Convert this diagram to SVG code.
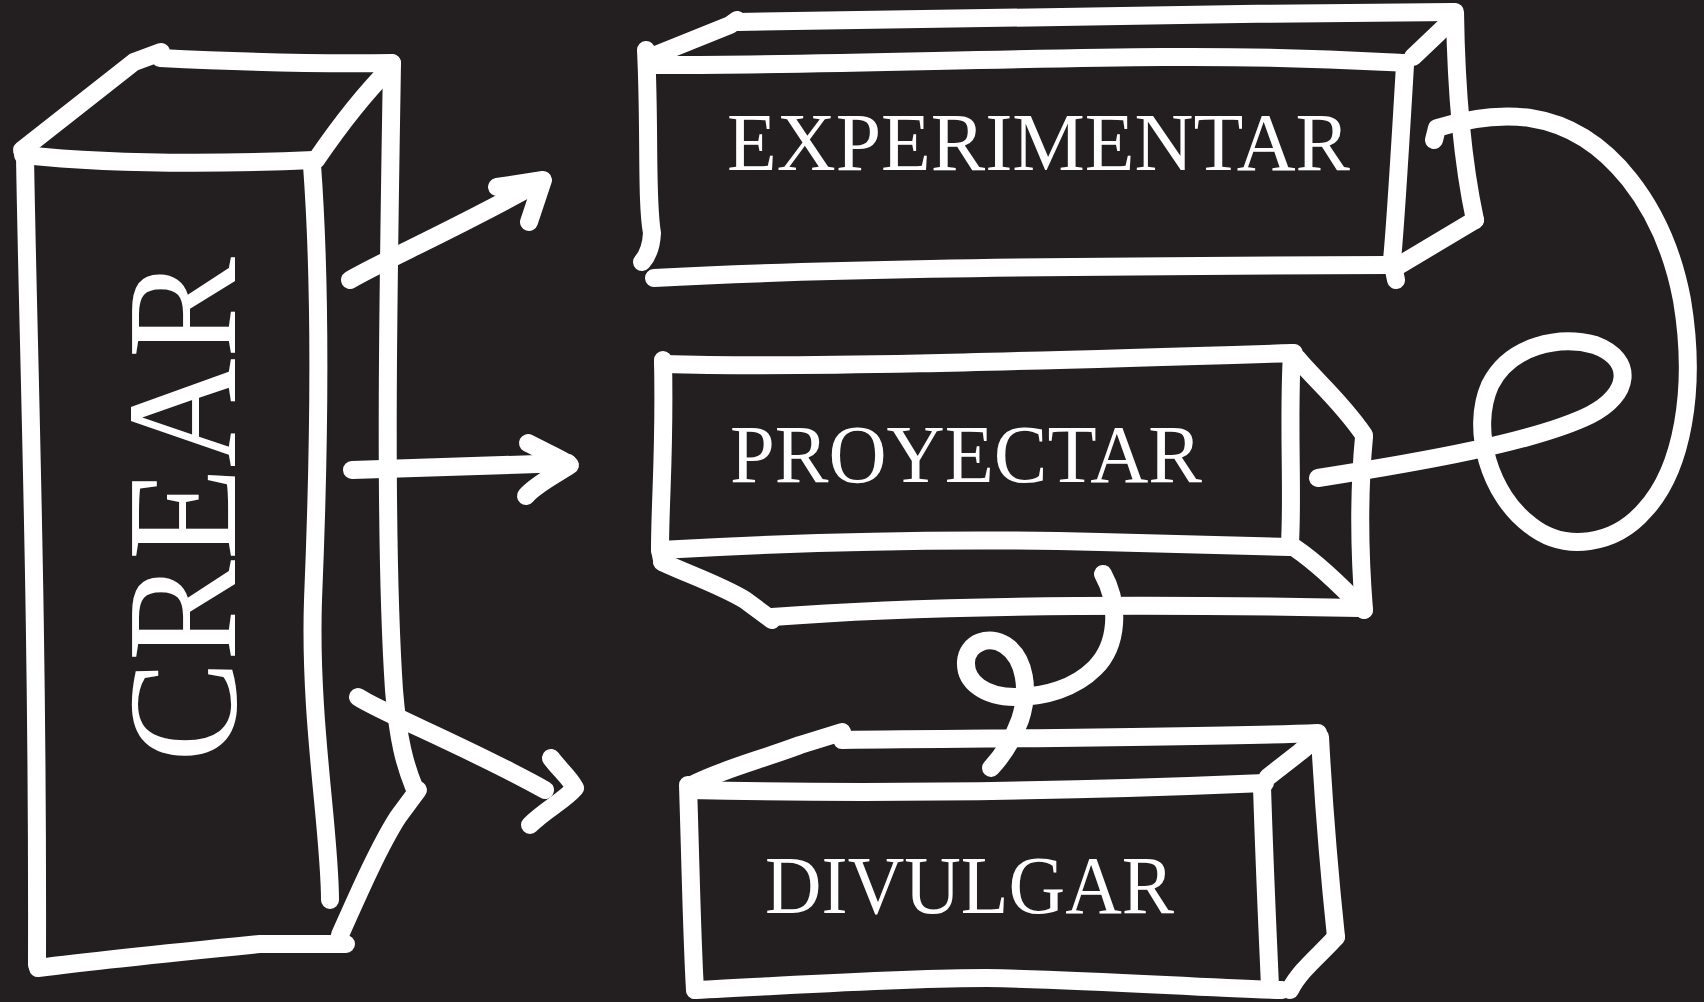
<svg xmlns="http://www.w3.org/2000/svg" width="1704" height="1002" viewBox="0 0 1704 1002">
<style>
.s{fill:none;stroke:#ffffff;stroke-width:18;stroke-linecap:round;stroke-linejoin:round}
.t{fill:#ffffff;font-family:"Liberation Serif","DejaVu Serif",serif;font-size:83px}
</style>
<rect width="1704" height="1002" fill="#231f20"/>
<g id="crear">
<path class="s" d="M25,155 C28,350 38,600 37,965"/>
<path class="s" d="M22,150 L134,62 L161,52"/>
<path class="s" d="M160,58 C240,62 320,64 392,63"/>
<path class="s" d="M390,68 C366,92 342,122 316,160"/>
<path class="s" d="M23,155 C100,163 200,165 314,160"/>
<path class="s" d="M312,165 C322,300 318,480 313,600 C309,720 330,830 330,900"/>
<path class="s" d="M392,63 C388,300 384,540 394,690 C398,740 405,765 414,787"/>
<path class="s" d="M38,968 C100,960 200,950 260,944 L346,944"/>
<path class="s" d="M340,935 C360,890 380,845 398,817 L418,790"/>
<text class="t" transform="translate(235,762) rotate(-90)" x="0" y="0" style="font-size:156px" textLength="505" lengthAdjust="spacingAndGlyphs">CREAR</text>
</g>
<g id="experimentar">
<path class="s" d="M646,50 C650,130 646,200 652,233 Q651,252 642,262"/>
<path class="s" d="M648,58 L730,25 L737,20"/>
<path class="s" d="M737,22 C900,18 1200,14 1454,12"/>
<path class="s" d="M1454,18 L1413,57"/>
<path class="s" d="M648,65 C800,66 1000,58 1163,57 C1300,56 1380,62 1405,63"/>
<path class="s" d="M1405,65 C1400,150 1395,230 1392,260 L1396,280"/>
<path class="s" d="M1455,12 C1456,80 1460,150 1475,220"/>
<path class="s" d="M1475,220 L1398,266"/>
<path class="s" d="M654,278 C800,270 1000,266 1388,265"/>
<text class="t" x="727" y="170" textLength="623" lengthAdjust="spacingAndGlyphs">EXPERIMENTAR</text>
</g>
<g id="proyectar">
<path class="s" d="M663,364 C800,368 1000,362 1294,353"/>
<path class="s" d="M663,360 C665,450 660,500 660,550 L662,560"/>
<path class="s" d="M660,550 C800,542 950,538 1100,542 L1290,547"/>
<path class="s" d="M1292,353 C1288,420 1293,490 1290,543"/>
<path class="s" d="M1297,358 C1315,380 1340,400 1364,435"/>
<path class="s" d="M1364,437 C1358,500 1360,560 1364,610"/>
<path class="s" d="M1295,548 C1320,565 1345,590 1364,610"/>
<path class="s" d="M772,617 C900,607 1100,603 1360,608"/>
<path class="s" d="M662,562 C690,575 720,585 745,600 L772,620"/>
<text class="t" x="730" y="482" textLength="472" lengthAdjust="spacingAndGlyphs">PROYECTAR</text>
</g>
<g id="divulgar">
<path class="s" d="M692,785 C720,770 760,760 800,745 L842,732"/>
<path class="s" d="M842,740 C1000,738 1200,738 1318,733"/>
<path class="s" d="M1318,737 L1300,752 L1268,777"/>
<path class="s" d="M690,790 C900,795 1100,790 1265,783"/>
<path class="s" d="M688,785 C691,880 692,940 695,990"/>
<path class="s" d="M1262,787 C1265,880 1268,940 1270,987"/>
<path class="s" d="M1320,737 C1325,830 1330,880 1336,937"/>
<path class="s" d="M1336,937 C1320,955 1300,970 1290,990"/>
<path class="s" d="M695,990 C800,985 900,978 987,978 C1100,980 1200,988 1282,990"/>
<text class="t" x="765" y="913" textLength="409" lengthAdjust="spacingAndGlyphs">DIVULGAR</text>
</g>
<g id="connectors">
<path class="s" d="M350,280 C380,262 450,232 540,182"/>
<path class="s" d="M497,187 L543,180 L533,210 L529,222"/>
<path class="s" d="M352,470 L568,463"/>
<path class="s" d="M528,443 C545,452 560,458 570,465 C555,475 535,485 526,496"/>
<path class="s" d="M358,697 C380,712 470,748 545,790"/>
<path class="s" d="M551,758 C560,770 570,778 575,788 C565,800 545,810 530,825"/>
<path class="s" d="M1434,140 L1437,128 C1470,118 1500,114 1530,118 C1610,130 1665,210 1682,300 C1697,390 1682,470 1645,510 C1615,545 1565,553 1530,525 C1490,495 1470,430 1490,385 C1510,345 1560,335 1595,345 C1635,360 1630,395 1590,415 C1535,442 1420,462 1318,478"/>
<path class="s" d="M1103,574 C1120,605 1118,645 1095,668 C1075,688 1045,697 1015,697 C985,697 965,682 966,662 C967,642 990,635 1005,645 C1025,658 1030,690 1020,720 C1012,742 1003,755 991,768"/>
</g>
</svg>
